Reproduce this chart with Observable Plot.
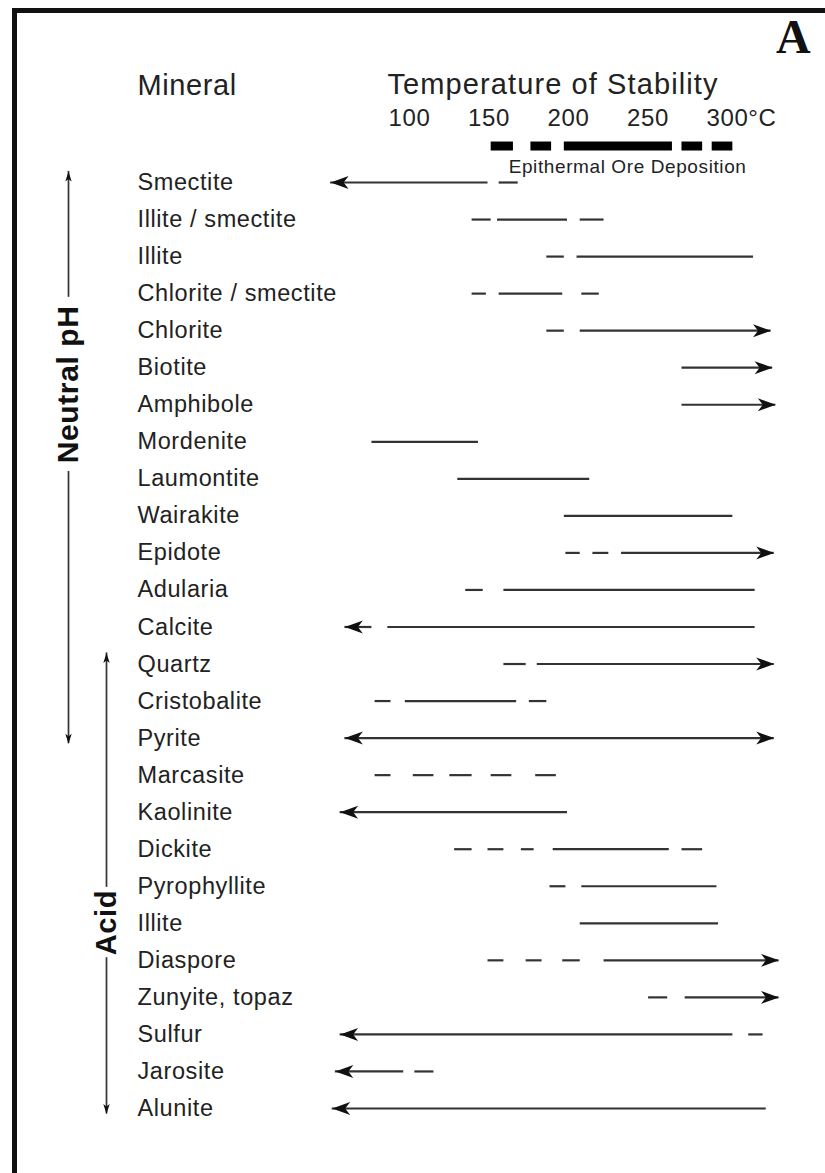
<!DOCTYPE html>
<html><head><meta charset="utf-8">
<script src="https://cdn.jsdelivr.net/npm/d3@7"></script>
<script src="https://cdn.jsdelivr.net/npm/@observablehq/plot@0.6"></script>
<style>
html,body{margin:0;padding:0;background:#fff;}
#wrap{position:relative;width:825px;height:1173px;overflow:hidden;}
#frame{position:absolute;left:12px;top:8px;right:-20px;bottom:-20px;border-top:5px solid #111;border-left:5px solid #111;}
#chart{position:absolute;left:0;top:0;}
</style></head><body>
<div id="wrap"><div id="frame"></div><div id="chart"></div></div>
<script>
// ---- data ----
const minerals = ["Smectite","Illite / smectite","Illite","Chlorite / smectite","Chlorite","Biotite","Amphibole","Mordenite","Laumontite","Wairakite","Epidote","Adularia","Calcite","Quartz","Cristobalite","Pyrite","Marcasite","Kaolinite","Dickite","Pyrophyllite","Illite","Diaspore","Zunyite, topaz","Sulfur","Jarosite","Alunite"];
// stability ranges per mineral: [from °C, to °C, arrowhead ("L" left, "R" right, "B" both)]
const ranges = [
 [[51,150,"L"],[157,169]],
 [[140,152],[156,200],[208,223]],
 [[187,198],[206,317]],
 [[140,149],[157,197],[209,220]],
 [[187,198],[208,328,"R"]],
 [[272,329,"R"]],
 [[272,331,"R"]],
 [[77,144]],
 [[131,214]],
 [[198,304]],
 [[199,208],[216,226],[234,330,"R"]],
 [[136,147],[160,318]],
 [[60,77,"L"],[87,318]],
 [[160,174],[181,330,"R"]],
 [[79,89],[98,168],[176,187]],
 [[60,330,"B"]],
 [[79,89],[103,116],[126,140],[152,165],[180,193]],
 [[57,200,"L"]],
 [[129,140],[150,160],[171,179],[191,264],[272,285]],
 [[189,199],[209,294]],
 [[208,295]],
 [[150,160],[174,184],[197,208],[223,333,"R"]],
 [[251,263],[274,333,"R"]],
 [[57,304,"L"],[314,323]],
 [[54,97,"L"],[104,116]],
 [[52,325,"L"]]
];
const tickTemps = [100,150,200,250,300];
const tickLabels = ["100","150","200","250","300°C"];
const oreDeposition = [[152,166],[177,190],[198,266],[272,285],[291,304]];
const oreLabel = "Epithermal Ore Deposition";
const groups = [{label:"Neutral pH", first:0, last:15}, {label:"Acid", first:13, last:25}];
const headers = {mineral:"Mineral", temp:"Temperature of Stability", panel:"A"};

// ---- layout ----
const L = {
  xDomain:[100,300], xRange:[408,726], yRange:[182,1108],
  groupXpx: {"Neutral pH":68, "Acid":106},
  groupLabelRow: {"Neutral pH":5.45, "Acid":19.98},
  groupLabelHalf: {"Neutral pH":2.35, "Acid":0.95},
  overTop:0.3, overBottom:0.15,
  oreRow:-0.985, oreLabelRow:-0.43, oreLabelX:163
};
const xs = d3.scaleLinear(L.xDomain, L.xRange);

const segs = ranges.flatMap((r,i)=> r.map(([a,b,h])=>({row:i,a,b,h})));
const headsR = segs.filter(s=>s.h==="R"||s.h==="B").map(s=>({x:s.b,row:s.row}));
const headsL = segs.filter(s=>s.h==="L"||s.h==="B").map(s=>({x:s.a,row:s.row}));
const ore = oreDeposition.map(([a,b])=>({a,b}));

const gsegs = groups.flatMap(g=>{
  const x = xs.invert(L.groupXpx[g.label]);
  const top = g.first - L.overTop, bot = g.last + L.overBottom;
  const c = L.groupLabelRow[g.label], h = L.groupLabelHalf[g.label];
  return [{x,y1:top,y2:c-h},{x,y1:c+h,y2:bot}];
});
const gtops = groups.map(g=>({x:xs.invert(L.groupXpx[g.label]), y:g.first-L.overTop}));
const gbots = groups.map(g=>({x:xs.invert(L.groupXpx[g.label]), y:g.last+L.overBottom}));
const glabels = groups.map(g=>({x:xs.invert(L.groupXpx[g.label]), y:L.groupLabelRow[g.label], label:g.label}));

const headRight = {draw(c){c.moveTo(0,0);c.lineTo(-18,-6.5);c.lineTo(-13,0);c.lineTo(-18,6.5);c.closePath();}};
const headLeft = {draw(c){c.moveTo(0,0);c.lineTo(18,-6.5);c.lineTo(13,0);c.lineTo(18,6.5);c.closePath();}};
const headUp = {draw(c){c.moveTo(0,0);c.lineTo(-3.2,10);c.lineTo(0,7.5);c.lineTo(3.2,10);c.closePath();}};
const headDown = {draw(c){c.moveTo(0,0);c.lineTo(-3.2,-10);c.lineTo(0,-7.5);c.lineTo(3.2,-10);c.closePath();}};

const INK = "#222", LINE = "#333";
const font = "Liberation Sans, Arial, Helvetica, sans-serif";

const chart = Plot.plot({
  width:825, height:1173, marginLeft:0, marginRight:0, marginTop:126, marginBottom:0,
  style:{fontFamily:font, background:"transparent", color:INK},
  x:{domain:L.xDomain, range:L.xRange, axis:null},
  y:{domain:[0,25], range:L.yRange, axis:null},
  marks:[
    Plot.axisX({anchor:"top", ticks:tickTemps, tickSize:0, tickPadding:1,
      tickFormat:d=>tickLabels[tickTemps.indexOf(d)], textAnchor:"start", dx:-20, fontSize:24}),
    Plot.text([headers.mineral], {text:d=>d, frameAnchor:"top-left", dx:137, dy:-32, lineAnchor:"bottom", textAnchor:"start", fontSize:29, fill:INK}),
    Plot.text([headers.temp], {text:d=>d, frameAnchor:"top-left", dx:387, dy:-33, lineAnchor:"bottom", textAnchor:"start", fontSize:29, fill:INK}),
    Plot.text([headers.panel], {text:d=>d, frameAnchor:"top-right", dx:-32, dy:-74, lineAnchor:"bottom", textAnchor:"middle", fontSize:48, fontWeight:"bold", fontFamily:"Liberation Serif, Times New Roman, serif", fill:"#111"}),
    // ore deposition bar
    Plot.ruleY(ore, {x1:"a", x2:"b", y:L.oreRow, stroke:"#000", strokeWidth:9}),
    Plot.text([oreLabel], {text:d=>d, x:L.oreLabelX, y:L.oreLabelRow, textAnchor:"start", fontSize:19, fill:INK}),
    // mineral labels
    Plot.text(minerals, {text:d=>d, y:(d,i)=>i, frameAnchor:"left", dx:137, textAnchor:"start", fontSize:23.5, fill:INK}),
    // ranges
    Plot.ruleY(segs, {x1:"a", x2:"b", y:"row", stroke:LINE, strokeWidth:2.2}),
    Plot.dot(headsR, {x:"x", y:"row", symbol:headRight, fill:"#111", stroke:"none"}),
    Plot.dot(headsL, {x:"x", y:"row", symbol:headLeft, fill:"#111", stroke:"none"}),
    // pH groups
    Plot.ruleX(gsegs, {x:"x", y1:"y1", y2:"y2", stroke:LINE, strokeWidth:1.7}),
    Plot.dot(gtops, {x:"x", y:"y", symbol:headUp, fill:"#111", stroke:"none"}),
    Plot.dot(gbots, {x:"x", y:"y", symbol:headDown, fill:"#111", stroke:"none"}),
    Plot.text(glabels.filter(d=>d.label==="Neutral pH"), {x:"x", y:"y", text:"label", rotate:-90, fontSize:30, fontWeight:"bold", fill:"#111"}),
    Plot.text(glabels.filter(d=>d.label==="Acid"), {x:"x", y:"y", text:"label", rotate:-90, fontSize:29, fontWeight:"bold", fill:"#111"})
  ]
});
chart.style.letterSpacing = "0.6px";
chart.style.fontFamily = font;
d3.select(chart).selectAll("text").filter(function(){return this.textContent === headers.temp;}).style("letter-spacing","1.1px");
document.getElementById("chart").appendChild(chart);
</script>
</body></html>
